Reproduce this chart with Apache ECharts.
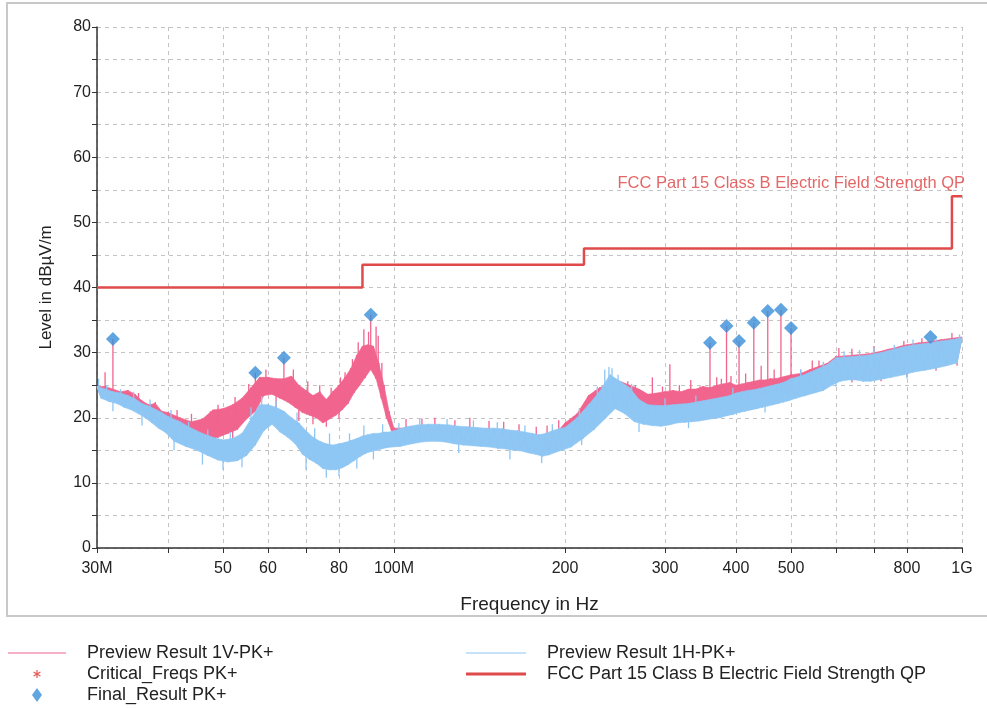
<!DOCTYPE html>
<html>
<head>
<meta charset="utf-8">
<title>Preview Result</title>
<script src="https://cdn.jsdelivr.net/npm/echarts@6.0.0/dist/echarts.min.js"></script>
<style>
  html, body { margin: 0; padding: 0; background: #fff; }
  #chart { width: 987px; height: 708px; }
</style>
</head>
<body>
<div id="chart"></div>
<script>
// measurement frequencies in MHz
var freqs = [
  30, 30.5, 31, 31.5, 32, 32.5, 33, 33.5, 34, 34.5, 35, 35.5, 36, 36.5, 37, 37.5, 38, 38.5, 39, 39.5,
  40, 41, 42, 43, 44, 45, 46, 47, 48, 49, 50, 51, 52, 53, 54, 55, 56, 57, 58, 59,
  60, 61, 62, 63, 64, 65, 66, 67, 68, 69, 70, 71, 72, 73, 74, 75, 76, 77, 78, 79,
  80, 81, 82, 83, 84, 85, 86, 87, 88, 89, 90, 91, 92, 93, 94, 95, 96, 97, 98, 99,
  100, 102.5, 105, 107.5, 110, 112.5, 115, 117.5, 120, 122.5, 125, 127.5, 130, 132.5, 135, 137.5, 140, 142.5, 145, 147.5,
  150, 152.5, 155, 157.5, 160, 162.5, 165, 167.5, 170, 172.5, 175, 177.5, 180, 182.5, 185, 187.5, 190, 192.5, 195, 197.5,
  200, 205, 210, 215, 220, 225, 230, 235, 240, 245, 250, 255, 260, 265, 270, 275, 280, 285, 290, 295,
  300, 305, 310, 315, 320, 325, 330, 335, 340, 345, 350, 355, 360, 365, 370, 375, 380, 385, 390, 395,
  400, 405, 410, 415, 420, 425, 430, 435, 440, 445, 450, 455, 460, 465, 470, 475, 480, 485, 490, 495,
  500, 510, 520, 530, 540, 550, 560, 570, 580, 590, 600, 610, 620, 630, 640, 650, 660, 670, 680, 690,
  700, 710, 720, 730, 740, 750, 760, 770, 780, 790, 800, 820, 840, 860, 880, 900, 920, 940, 960, 980, 1000
];

// Preview Result 1V-PK+ (dBuV/m), alternating peak / trough readings
var levelV = [
  24.8, 23.2, 24.8, 22.6, 24.4, 22.4, 24.0, 21.8, 24.2, 21.4, 23.6, 20.8, 22.6, 20.2, 22.0, 19.5, 22.2, 18.8, 21.0, 18.2,
  20.8, 16.8, 20.0, 16.0, 19.4, 16.2, 19.8, 16.6, 21.2, 17.0, 21.4, 17.6, 22.0, 18.2, 23.0, 19.8, 24.6, 21.0, 26.2, 23.4,
  26.2, 23.6, 26.0, 23.0, 26.0, 22.4, 26.4, 21.6, 25.0, 20.8, 24.2, 20.4, 23.4, 20.0, 24.0, 19.2, 22.8, 19.8, 24.0, 20.4,
  25.0, 21.2, 26.2, 22.2, 27.6, 23.8, 29.6, 25.0, 31.0, 26.2, 31.2, 27.4, 31.0, 26.0, 28.4, 23.0, 25.0, 20.0, 21.0, 18.0,
  18.4, 16.2, 18.4, 16.5, 18.7, 16.8, 18.8, 16.9, 18.8, 16.8, 18.7, 16.5, 18.5, 16.3, 18.4, 16.2, 18.3, 16.1, 18.2, 16.0,
  18.2, 15.8, 18.1, 15.7, 17.9, 15.5, 17.8, 15.4, 17.6, 15.1, 17.4, 14.9, 17.2, 14.6, 17.4, 14.8, 17.8, 15.2, 18.1, 15.5,
  19.2, 16.0, 20.6, 17.8, 23.4, 19.0, 24.6, 20.8, 25.2, 22.0, 25.6, 21.6, 25.0, 21.2, 24.4, 21.0, 23.6, 21.0, 23.8, 21.2,
  24.0, 21.4, 24.2, 21.6, 24.0, 21.6, 24.4, 21.8, 24.4, 22.0, 24.8, 22.1, 24.6, 22.3, 25.0, 22.4, 25.2, 22.5, 25.4, 22.6,
  25.0, 23.0, 25.2, 23.1, 25.4, 23.2, 25.6, 23.3, 25.8, 23.4, 25.8, 23.5, 26.0, 23.6, 26.0, 23.8, 26.2, 23.9, 26.4, 24.0,
  26.6, 23.6, 26.8, 23.8, 27.4, 24.1, 27.9, 24.5, 28.4, 25.3, 29.4, 25.9, 29.5, 26.1, 29.6, 26.1, 29.7, 25.9, 29.8, 25.9,
  30.0, 26.1, 30.2, 26.3, 30.5, 26.5, 30.7, 26.7, 31.0, 26.9, 31.2, 27.3, 31.5, 27.6, 31.7, 27.9, 32.0, 28.3, 32.2, 28.7, 32.4
];

// Preview Result 1H-PK+ (dBuV/m), alternating peak / trough readings
var levelH = [
  24.8, 23.0, 24.4, 22.5, 24.0, 22.2, 23.8, 21.6, 23.4, 21.2, 22.9, 20.6, 22.2, 20.0, 21.8, 19.2, 21.3, 18.4, 20.8, 17.8,
  20.2, 16.4, 19.4, 15.6, 18.4, 15.0, 17.6, 14.2, 17.0, 13.5, 16.6, 13.2, 16.8, 13.4, 17.6, 14.2, 19.8, 15.8, 22.0, 18.0,
  22.0, 19.0, 21.6, 17.8, 21.0, 17.0, 20.0, 16.0, 19.2, 14.4, 18.0, 13.6, 17.0, 13.0, 16.4, 12.2, 16.0, 12.0, 15.8, 12.0,
  16.0, 12.3, 16.2, 12.8, 16.5, 13.4, 16.8, 14.0, 17.2, 14.5, 17.4, 14.8, 17.6, 15.0, 17.6, 15.2, 17.8, 15.4, 17.8, 15.5,
  18.0, 15.6, 18.6, 16.0, 18.9, 16.3, 19.0, 16.4, 19.0, 16.3, 18.9, 16.0, 18.7, 15.8, 18.6, 15.7, 18.5, 15.6, 18.4, 15.5,
  18.4, 15.3, 18.3, 15.2, 18.1, 15.0, 18.0, 14.9, 17.8, 14.6, 17.6, 14.4, 17.4, 14.1, 17.6, 14.3, 18.0, 14.7, 18.3, 15.0,
  18.5, 15.5, 20.0, 16.8, 22.0, 18.2, 24.0, 19.8, 26.6, 21.4, 25.6, 20.6, 24.6, 19.4, 22.8, 19.0, 22.0, 18.8, 21.9, 18.7,
  21.9, 18.9, 22.0, 19.2, 22.1, 19.3, 22.2, 19.4, 22.4, 19.5, 22.6, 19.7, 22.8, 19.9, 23.0, 20.0, 23.2, 20.3, 23.4, 20.5,
  23.8, 20.8, 24.0, 21.0, 24.2, 21.2, 24.3, 21.4, 24.5, 21.6, 24.7, 21.8, 24.9, 22.0, 25.1, 22.2, 25.3, 22.4, 25.6, 22.6,
  26.0, 23.0, 26.4, 23.4, 27.0, 23.8, 27.6, 24.2, 28.2, 25.0, 29.2, 25.6, 29.3, 25.8, 29.4, 25.8, 29.5, 25.6, 29.6, 25.6,
  29.8, 25.8, 30.0, 26.0, 30.3, 26.2, 30.5, 26.4, 30.8, 26.6, 31.0, 27.0, 31.3, 27.3, 31.5, 27.6, 31.8, 28.0, 32.0, 28.4, 32.3
];

// narrow spikes on the 1V trace: frequency, foot, tip
var spikeFreqsV = [31, 32, 35.5, 38, 41.5, 44, 47.5, 49, 52.5, 55.5, 57, 59.5, 64, 66.5, 70.5, 74, 77.5, 80.5, 82, 84.5,
  86.5, 88.5, 90.2, 91, 93, 93.8, 95.2, 105, 112, 118, 128, 136, 147, 156, 166, 178, 186, 195, 207, 214,
  222, 226, 258, 266, 285, 297, 306, 318, 333, 346, 360, 370, 377, 385, 392, 405, 416, 430, 443, 455,
  467, 480, 500, 520, 545, 560, 607, 640, 700, 790, 850, 960,
  48, 52, 62, 68, 72, 76, 80, 640, 720, 800, 900, 980];
var spikeBaseV = [23, 22.5, 21, 19, 17, 17, 17, 18, 19, 21, 22, 24, 24, 23, 22, 21, 21, 22, 23, 25,
  26, 28, 29, 29, 28, 27, 24, 17, 17, 17, 17, 16, 16, 16, 15, 15, 15, 16, 17, 18,
  19, 20, 22, 22, 22, 22, 22, 22, 22, 22, 23, 23, 23, 23, 23, 24, 24, 24, 24, 25,
  25, 25, 26, 26, 26, 27, 28, 29, 29, 30, 30, 31,
  17.4, 18.4, 23.5, 21.2, 20.4, 20.0, 21.4, 26.2, 26.5, 27.2, 28.1, 28.9];
var spikePeakV = [27.0, 32.1, 23.8, 22.4, 21.2, 20.6, 21.0, 22.0, 23.2, 25.2, 26.9, 27.4, 29.2, 27.4, 25.6, 25.0, 24.6, 26.2, 27.0, 29.0,
  31.6, 33.6, 33.2, 35.8, 34.0, 32.6, 28.4, 19.8, 19.9, 20.0, 19.6, 20.0, 19.5, 19.4, 19.0, 18.6, 18.8, 19.6, 20.2, 21.6,
  23.6, 24.2, 25.6, 25.0, 26.2, 24.8, 28.2, 25.0, 25.8, 24.8, 31.5, 26.2, 26.0, 34.1, 26.4, 31.8, 26.8, 34.6, 28.0, 36.4,
  27.4, 36.6, 33.8, 27.4, 28.8, 28.8, 30.7, 30.6, 31.0, 31.8, 32.2, 33.0,
  16.0, 16.8, 21.0, 19.5, 19.0, 18.6, 19.8, 25.4, 25.6, 26.3, 27.2, 28.0];

// narrow spikes on the 1H trace (upward on the top edge, downward on the bottom edge)
var spikeFreqsH = [30.2, 31.2, 33, 34.8, 37.2, 40.5, 43.5, 47, 51.5, 56, 58.5, 62, 67.5, 72.5, 77, 83.5, 88.5, 95.5,
  102, 111, 124, 138, 152, 170, 190, 212, 228, 235, 239, 242, 248, 262, 300, 340, 395, 520, 570, 620, 660, 700,
  760, 820, 900, 990,
  32, 36, 41, 46, 50, 54, 70, 76, 80, 86, 92, 130, 160, 182, 214, 270, 330, 450, 600, 800];
var spikeBaseH = [24, 23.8, 22, 22.5, 21, 19.5, 17.8, 16.6, 16, 18, 19, 19, 19, 16.5, 15.5, 16, 17, 17.5,
  17, 18.5, 18.5, 18.2, 18, 16, 17.6, 19.5, 23, 22, 23, 23, 22, 24, 21.6, 22, 23, 26, 27.4, 28, 29.2, 29.5,
  29, 31, 30, 31,
  22.5, 20.4, 16.8, 14.6, 13.6, 14.0, 14.0, 12.5, 12.4, 13.8, 15.2, 16.0, 15.2, 14.4, 17.0, 19.2, 19.6, 22.0, 25.8, 27.0];
var spikePeakH = [26.0, 25.0, 24.4, 24.0, 22.8, 21.2, 19.4, 18.2, 17.8, 21.6, 23.3, 22.6, 20.8, 18.4, 17.6, 17.6, 18.8, 19.0,
  19.2, 19.8, 19.8, 19.6, 19.3, 18.8, 19.0, 21.5, 24.8, 27.4, 27.8, 27.6, 26.6, 25.2, 23.0, 23.4, 24.6, 27.4, 28.6, 30.2, 30.4, 30.8,
  31.2, 32.0, 32.4, 32.8,
  21.0, 18.8, 15.0, 12.8, 12.0, 12.4, 12.0, 10.8, 11.0, 12.2, 13.6, 14.6, 13.6, 13.0, 15.8, 17.8, 18.4, 20.8, 24.8, 26.0];

// Final_Result PK+
var finalFreqs = [32, 57, 64, 91, 360, 385, 405, 430, 455, 480, 500, 880];
var finalLevels = [32.1, 26.9, 29.2, 35.8, 31.5, 34.1, 31.8, 34.6, 36.4, 36.6, 33.8, 32.4];

// FCC Part 15 Class B limit (step line)
var limitFreqs = [30, 88, 88, 216, 216, 960, 960, 1000];
var limitLevels = [40, 40, 43.5, 43.5, 46, 46, 54, 54];

var xTickValues = [30, 40, 50, 60, 70, 80, 100, 200, 300, 400, 500, 600, 700, 800, 1000];
var xLabelValues = [30, 50, 60, 80, 100, 200, 300, 400, 500, 800, 1000];

var FONT = "'Liberation Sans', Arial, sans-serif";
var PINK = '#f0648e';
var BLUE = '#8ec6f4';
var RED = '#e04a4a';

function pairs(xs, ys) {
  var out = [];
  for (var i = 0; i < ys.length; i++) {
    out.push([xs[i], ys[i]]);
  }
  return out;
}

function triples(xs, a, b) {
  var out = [];
  for (var i = 0; i < xs.length; i++) {
    out.push([xs[i], a[i], b[i]]);
  }
  return out;
}

// fills the band between the alternating peak / trough readings
function bandSeries(name, levels, color, z) {
  return {
    name: name,
    type: 'custom',
    data: pairs(freqs, levels),
    encode: { x: 0, y: 1 },
    clip: true,
    silent: true,
    z: z,
    renderItem: function (params, api) {
      var i = params.dataIndex;
      if (i > levels.length - 3) return null;
      var pts = [
        api.coord([freqs[i], levels[i]]),
        api.coord([freqs[i + 1], levels[i + 1]]),
        api.coord([freqs[i + 2], levels[i + 2]])
      ];
      return {
        type: 'polygon',
        shape: { points: pts },
        style: { fill: color, stroke: color, lineWidth: 0.6 }
      };
    }
  };
}

function spikeSeries(name, fs, base, peak, color, z) {
  return {
    name: name,
    type: 'custom',
    data: triples(fs, base, peak),
    encode: { x: 0, y: [1, 2] },
    clip: true,
    silent: true,
    z: z,
    renderItem: function (params, api) {
      var a = api.coord([api.value(0), api.value(1)]);
      var b = api.coord([api.value(0), api.value(2)]);
      return {
        type: 'line',
        shape: { x1: a[0], y1: a[1], x2: b[0], y2: b[1] },
        style: { stroke: color, lineWidth: 1.3 }
      };
    }
  };
}

var asterisk = 'path://M-4 -4M24 24M8.8 2L11.2 2L11.2 18L8.8 18Z' +
  'M3.67 4.96L17.53 12.96L16.33 15.04L2.47 7.04Z' +
  'M16.33 4.96L17.53 7.04L3.67 15.04L2.47 12.96Z';

var myChart = echarts.init(document.getElementById('chart'), null, { renderer: 'canvas' });

var gridLine = { show: true, lineStyle: { color: '#c4c4c4', type: [4, 4], width: 1 } };
var legendText = { fontSize: 18, lineHeight: 18, color: '#222', fontFamily: FONT, padding: [0, 0, 0, 16] };

var option = {
  animation: false,
  backgroundColor: '#fff',
  textStyle: { fontFamily: FONT },
  graphic: [{
    type: 'rect',
    shape: { x: 7, y: 3, width: 1000, height: 613 },
    style: { fill: 'none', stroke: '#c8c8c8', lineWidth: 2 },
    silent: true
  }],
  grid: { left: 97, right: 25, top: 27, bottom: 160 },
  xAxis: {
    type: 'log',
    logBase: 10,
    min: 30,
    max: 1000,
    name: 'Frequency in Hz',
    nameLocation: 'middle',
    nameGap: 47,
    nameTextStyle: { fontSize: 19, color: '#222', fontFamily: FONT },
    axisLine: { lineStyle: { color: '#333', width: 1.5 } },
    axisTick: { show: true, length: 5, customValues: xTickValues, lineStyle: { color: '#333' } },
    axisLabel: {
      customValues: xLabelValues,
      margin: 13,
      fontSize: 16,
      color: '#222',
      fontFamily: FONT,
      formatter: function (v) {
        var r = Math.round(v);
        if (r === 30) return '30M';
        if (r === 100) return '100M';
        if (r === 1000) return '1G';
        return String(r);
      }
    },
    splitLine: gridLine,
    minorTick: { show: false },
    minorSplitLine: { show: false }
  },
  yAxis: {
    type: 'value',
    min: 0,
    max: 80,
    interval: 5,
    name: 'Level in dBµV/m',
    nameLocation: 'middle',
    nameGap: 42,
    nameTextStyle: { fontSize: 17, color: '#222', fontFamily: FONT },
    axisLine: { show: true, lineStyle: { color: '#333', width: 1.5 } },
    axisTick: { show: true, length: 5, lineStyle: { color: '#333' } },
    axisLabel: {
      margin: 6,
      fontSize: 16,
      color: '#222',
      fontFamily: FONT,
      formatter: function (v) { return v % 10 === 0 ? String(v) : ''; }
    },
    splitLine: gridLine
  },
  legend: [{
    left: 8,
    top: 644,
    padding: 0,
    orient: 'vertical',
    itemWidth: 58,
    itemHeight: 14,
    itemGap: 3,
    selectedMode: false,
    textStyle: legendText,
    data: [
      { name: 'Preview Result 1V-PK+', icon: 'path://M0 0L58 0L58 1L0 1Z' },
      { name: 'Critical_Freqs PK+', icon: asterisk },
      { name: 'Final_Result PK+', icon: 'path://M5 0L10 7L5 14L0 7Z' }
    ]
  }, {
    left: 466,
    top: 644,
    padding: 0,
    orient: 'vertical',
    itemWidth: 60,
    itemHeight: 14,
    itemGap: 3,
    selectedMode: false,
    textStyle: legendText,
    data: [
      { name: 'Preview Result 1H-PK+', icon: 'path://M0 0L60 0L60 1.2L0 1.2Z' },
      { name: 'FCC Part 15 Class B Electric Field Strength QP', icon: 'path://M0 0L60 0L60 3L0 3Z' }
    ]
  }],
  series: [
    bandSeries('1V band', levelV, PINK, 2),
    spikeSeries('1V spikes', spikeFreqsV, spikeBaseV, spikePeakV, PINK, 2),
    {
      name: 'Preview Result 1V-PK+',
      type: 'line',
      data: pairs(freqs, levelV),
      symbol: 'none',
      sampling: false,
      color: PINK,
      lineStyle: { width: 1, color: PINK },
      z: 2
    },
    bandSeries('1H band', levelH, BLUE, 3),
    spikeSeries('1H spikes', spikeFreqsH, spikeBaseH, spikePeakH, BLUE, 3),
    {
      name: 'Preview Result 1H-PK+',
      type: 'line',
      data: pairs(freqs, levelH),
      symbol: 'none',
      color: BLUE,
      lineStyle: { width: 1, color: BLUE },
      z: 3
    },
    {
      name: 'FCC Part 15 Class B Electric Field Strength QP',
      type: 'line',
      data: pairs(limitFreqs, limitLevels),
      symbol: 'none',
      color: RED,
      lineStyle: { width: 2.5, color: RED },
      z: 4
    },
    {
      name: 'Critical_Freqs PK+',
      type: 'scatter',
      data: [],
      symbol: asterisk,
      color: '#e0302a'
    },
    {
      name: 'Final_Result PK+',
      type: 'scatter',
      data: pairs(finalFreqs, finalLevels),
      symbol: 'diamond',
      symbolSize: [14, 14],
      color: '#3a8fd8',
      z: 5
    },
    {
      name: 'limit text',
      type: 'scatter',
      data: [[1000, 54]],
      symbolSize: 0,
      silent: true,
      z: 6,
      label: {
        show: true,
        position: 'top',
        align: 'right',
        offset: [3, 1],
        formatter: 'FCC Part 15 Class B Electric Field Strength QP',
        color: '#dd4040',
        fontSize: 16.5,
        fontFamily: FONT
      }
    }
  ]
};

myChart.setOption(option);
</script>
</body>
</html>
